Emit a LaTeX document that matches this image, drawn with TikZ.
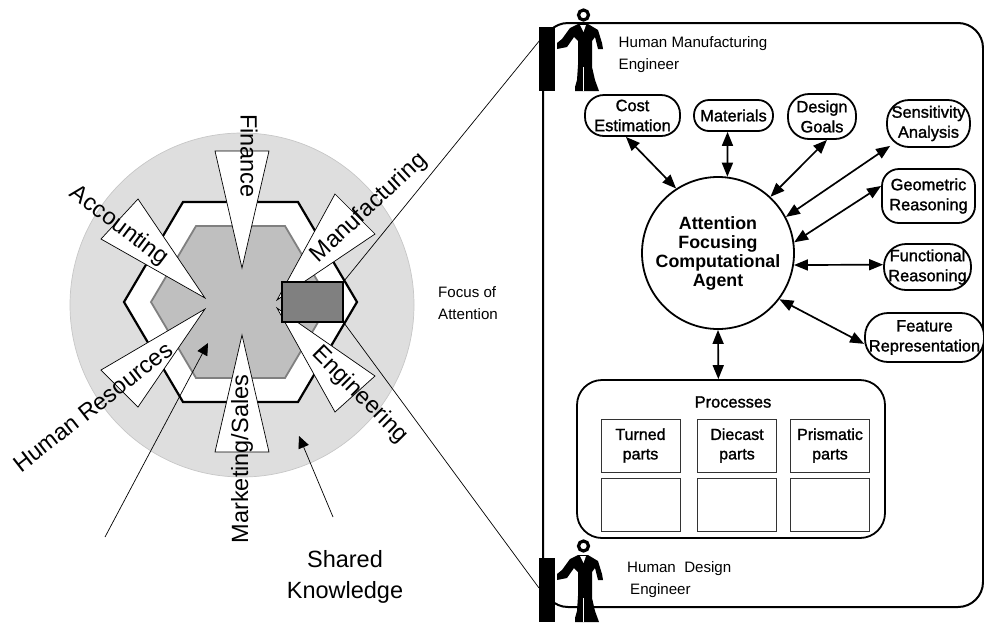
\documentclass[tikz,border=0pt]{standalone}
\usepackage{fontspec}
\setmainfont{Liberation Sans}
\newfontfamily\thickfont[FakeBold=1.4]{Liberation Sans}
\usetikzlibrary{arrows.meta, shapes.geometric}
\definecolor{sharedgray}{HTML}{DEDEDE}
\definecolor{innergray}{HTML}{BFBFBF}
\definecolor{focusgray}{HTML}{808080}
\tikzset{
  wedge/.style={draw=black, fill=white, line width=0.7pt, line join=miter},
  wedgelabel/.style={font=\fontsize{23.5}{28}\selectfont, inner sep=0pt},
  plaintext/.style={font=\fontsize{15.1}{21.5}\selectfont, align=left, inner sep=0pt, anchor=west},
  sourcebox/.style={draw=black, fill=white, line width=1.8pt, rounded corners=17pt, inner sep=0pt, align=center,
    font=\thickfont\fontsize{16.4}{20}\selectfont},
  partbox/.style={draw=black!80, fill=white, line width=0.9pt, minimum width=79pt, minimum height=53pt, inner sep=0pt,
    align=center, font=\thickfont\fontsize{16}{19.5}\selectfont},
  biarrow/.style={{Triangle[length=14pt,width=11pt]}-{Triangle[length=14pt,width=11pt]}, line width=1.7pt},
  pointer/.style={-{Triangle[length=12pt,width=11pt]}, line width=0.7pt},
  leader/.style={line width=0.7pt},
  engineer/.pic={
    \fill[black] (0,0) rectangle (16,64);
    \fill[black] (18,16) -- (23,12) -- (31,1) -- (39,-3) -- (49,-3) -- (59,3) -- (63,16) -- (64,22) -- (59,22) -- (56,10)
      -- (53,14) -- (53,40) -- (56,53) -- (60,64) -- (36,64) -- (36,60) -- (38,53) -- (39,38) -- (39,14) -- (35,10)
      -- (28,20) -- (18,22) -- cycle;
    \fill[white] (44,40) rectangle (45,64);
    \fill[white] (41,-2) -- (47,-2) -- (44.5,5) -- cycle;
    \draw[black, line width=3.2pt] (44.5,-12) circle (5);
  }
}
\begin{document}
\begin{tikzpicture}[x=1pt, y=-1pt]
  \useasboundingbox (0,0) rectangle (984,622);

  \coordinate (hrtail) at (105,537);
  \coordinate (hrtip) at (208,343);
  \coordinate (sharedtail) at (333,517);
  \coordinate (sharedtip) at (299,436);
  \coordinate (topbar) at (540,40);
  \coordinate (lowbar) at (539,588);

  \draw[draw=black!22, fill=sharedgray, line width=0.7pt] (242,305) circle (172);
  \draw[fill=white, line width=2.2pt, line join=miter] (124,302) -- (183,202) -- (298,202) -- (357,302) -- (298,402) -- (183,402) -- cycle;
  \draw[draw=black!50, fill=innergray, line width=1.8pt, line join=miter] (151,302) -- (196,226) -- (285,226) -- (330,302) -- (285,378) -- (196,378) -- cycle;

  \draw[wedge] (215,151) -- (269,151) -- (242,268) -- cycle;
  \draw[wedge] (215,452) -- (269,452) -- (242,335) -- cycle;
  \draw[wedge] (138,199) -- (101,239) -- (205,298) -- cycle;
  \draw[wedge] (101,370) -- (138,407) -- (205,309) -- cycle;
  \draw[wedge] (335,194) -- (375,234) -- (277,300) -- cycle;
  \draw[wedge] (375,376) -- (335,412) -- (277,308) -- cycle;

  \node[draw=black, fill=focusgray, line width=2.5pt, minimum width=61pt, minimum height=40pt, inner sep=0pt] (focus) at (312.5,302) {};

  \draw[leader] (focus.north east) -- (topbar);
  \draw[leader] (focus.south east) -- (lowbar);
  \draw[pointer] (hrtail) -- (hrtip);
  \draw[pointer] (sharedtail) -- (sharedtip);

  \node[wedgelabel, rotate=-90] (finance) at (249,156) {Finance};
  \node[wedgelabel, rotate=90] (marketing) at (242,459) {Marketing/Sales};
  \node[wedgelabel, rotate=-37] (accounting) at (119,226) {Accounting};
  \node[wedgelabel, rotate=38] (humanres) at (93,407) {Human Resources};
  \node[wedgelabel, rotate=43] (manufacturing) at (369,208) {Manufacturing};
  \node[wedgelabel, rotate=-45] (engineering) at (360,395) {Engineering};
  \node[font=\fontsize{23.5}{31}\selectfont, align=center, inner sep=0pt] (shared) at (345,577) {Shared\\Knowledge};
  \node[plaintext] (attention) at (438,303) {Focus of\\Attention};

  \draw[draw=black, fill=white, line width=2pt, rounded corners=25pt] (543,23) rectangle (983,607);

  \pic at (539,27) {engineer};
  \pic at (539,558) {engineer};
  \node[plaintext] (manuf) at (618.5,54.5) {Human Manufacturing\\Engineer};
  \node[plaintext, align=left] (design) at (627,579.5) {Human~~Design\\\hspace*{3pt}Engineer};

  \node[draw=black, fill=white, circle, line width=1.8pt, minimum size=152pt, inner sep=0pt, align=center, font=\bfseries\fontsize{17.8}{19}\selectfont] (agent) at (718,253) {Attention\\Focusing\\Computational\\Agent};
  \node[sourcebox, minimum width=95pt, minimum height=41pt, rounded corners=19pt] (cost) at (632.5,115.5) {Cost\\Estimation};
  \node[sourcebox, minimum width=79pt, minimum height=31pt, rounded corners=15pt] (materials) at (733.5,115.5) {Materials};
  \node[sourcebox, minimum width=68pt, minimum height=45pt, rounded corners=21pt] (goals) at (822,116.5) {Design\\Goals};
  \node[sourcebox, minimum width=83pt, minimum height=47pt, rounded corners=22pt] (sensitivity) at (928.5,123.5) {Sensitivity\\Analysis};
  \node[sourcebox, minimum width=93pt, minimum height=54pt] (geometric) at (928.5,196) {Geometric\\Reasoning};
  \node[sourcebox, minimum width=87pt, minimum height=46pt, rounded corners=22pt] (functional) at (927.5,267) {Functional\\Reasoning};
  \node[sourcebox, minimum width=119pt, minimum height=49pt, rounded corners=23pt] (feature) at (924.5,337.5) {Feature\\Representation};

  \node[draw=black, fill=white, line width=1.8pt, rounded corners=25pt, minimum width=308pt, minimum height=158pt, inner sep=0pt] (processes) at (731,459) {};
  \node[inner sep=0pt, font=\thickfont\fontsize{16.4}{19}\selectfont] (procname) at (733,402) {Processes};
  \node[partbox] (turned) at (640.5,445.5) {Turned\\parts};
  \node[partbox] (diecast) at (737,445.5) {Diecast\\parts};
  \node[partbox] (prismatic) at (830,445.5) {Prismatic\\parts};
  \node[partbox] (turnedlow) at (640.5,504.5) {};
  \node[partbox] (diecastlow) at (737,504.5) {};
  \node[partbox] (prismaticlow) at (830,504.5) {};

  \draw[biarrow] (cost.-107) -- (agent.123);
  \draw[biarrow] (materials.-110) -- (agent.83);
  \draw[biarrow] (goals.-78) -- (agent.47);
  \draw[biarrow] ([xshift=4pt,yshift=2pt]sensitivity.south west) -- (agent.28);
  \draw[biarrow] (geometric.168) -- (agent.8);
  \draw[biarrow] (functional.177.4) -- (agent.-9);
  \draw[biarrow] (feature.186) -- (agent.-37);
  \draw[biarrow] (processes.99) -- (agent.south);
\end{tikzpicture}
\end{document}
